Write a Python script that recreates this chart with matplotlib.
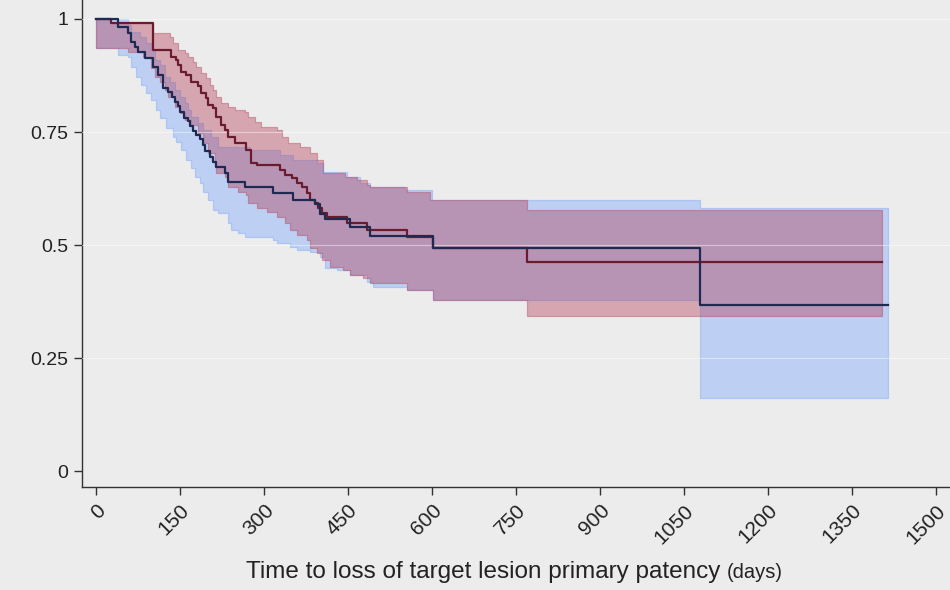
import numpy as np
import matplotlib
matplotlib.use("Agg")
import matplotlib.pyplot as plt

# --- survival estimates (days, proportion) ---
red_t = [0, 27, 102, 134, 143, 146, 152, 161, 170, 182, 188, 196, 200, 209, 214, 223, 230, 236,
         248, 268, 277, 288, 329, 338, 350, 359, 368, 377, 382, 391, 396, 404, 412, 448, 484,
         555, 602, 770]
red_s = [1.0, 0.991, 0.931, 0.916, 0.909, 0.898, 0.883, 0.876, 0.861, 0.852, 0.836, 0.825, 0.810,
         0.803, 0.783, 0.765, 0.754, 0.739, 0.726, 0.710, 0.681, 0.677, 0.666, 0.655, 0.648, 0.637,
         0.628, 0.615, 0.600, 0.593, 0.582, 0.571, 0.562, 0.549, 0.533, 0.518, 0.493, 0.462]
red_end = 1404

red_hi_t = [0, 27, 102, 132, 138, 146, 159, 164, 173, 179, 188, 196, 204, 209, 214, 223, 236, 248,
            266, 271, 284, 295, 323, 332, 343, 364, 382, 395, 405, 445, 466, 484, 489, 555, 596, 770]
red_hi = [1.0, 0.991, 0.969, 0.960, 0.947, 0.931, 0.925, 0.916, 0.905, 0.894, 0.881, 0.869, 0.854,
          0.843, 0.827, 0.814, 0.805, 0.799, 0.794, 0.783, 0.772, 0.761, 0.754, 0.739, 0.726, 0.717,
          0.704, 0.688, 0.659, 0.650, 0.643, 0.633, 0.628, 0.617, 0.600, 0.577]
red_lo_t = [0, 57, 84, 98, 105, 114, 123, 129, 141, 150, 159, 170, 182, 191, 200, 213, 214, 230, 236,
            254, 268, 271, 288, 305, 323, 338, 346, 359, 377, 382, 395, 404, 418, 441, 454, 477, 489,
            555, 602, 770]
red_lo = [0.936, 0.927, 0.916, 0.892, 0.872, 0.861, 0.843, 0.827, 0.805, 0.792, 0.777, 0.765, 0.748,
          0.726, 0.704, 0.673, 0.659, 0.650, 0.628, 0.617, 0.611, 0.593, 0.582, 0.573, 0.562, 0.549,
          0.533, 0.522, 0.511, 0.493, 0.482, 0.467, 0.451, 0.445, 0.434, 0.427, 0.416, 0.400, 0.378,
          0.343]

blue_t = [0, 39, 57, 63, 70, 75, 88, 102, 111, 120, 129, 136, 141, 146, 150, 157, 164, 168, 173,
          179, 186, 191, 195, 204, 209, 214, 230, 236, 266, 316, 352, 391, 400, 409, 454, 489, 602,
          1079]
blue_s = [1.0, 0.982, 0.969, 0.949, 0.938, 0.927, 0.914, 0.894, 0.876, 0.847, 0.838, 0.827, 0.816,
          0.808, 0.794, 0.781, 0.774, 0.763, 0.752, 0.743, 0.735, 0.721, 0.708, 0.695, 0.684, 0.673,
          0.659, 0.639, 0.628, 0.615, 0.600, 0.591, 0.569, 0.558, 0.540, 0.520, 0.493, 0.367]
blue_end = 1414

blue_hi_t = [0, 57, 63, 79, 89, 98, 105, 114, 123, 132, 141, 150, 159, 164, 170, 182, 191, 205, 218,
             275, 329, 352, 395, 405, 448, 471, 489, 552, 600, 1079]
blue_hi = [1.0, 0.987, 0.971, 0.960, 0.947, 0.931, 0.909, 0.898, 0.872, 0.861, 0.843, 0.827, 0.814,
           0.799, 0.783, 0.770, 0.754, 0.739, 0.717, 0.710, 0.699, 0.688, 0.681, 0.661, 0.650, 0.637,
           0.628, 0.622, 0.600, 0.582]
blue_lo_t = [0, 39, 57, 62, 71, 80, 89, 98, 107, 114, 125, 137, 143, 152, 161, 170, 177, 186, 191,
             200, 209, 218, 236, 241, 254, 266, 316, 323, 346, 359, 382, 400, 409, 430, 454, 484, 495,
             555, 602, 1079]
blue_lo = [0.936, 0.920, 0.916, 0.894, 0.872, 0.854, 0.836, 0.821, 0.799, 0.781, 0.759, 0.739, 0.728,
           0.710, 0.688, 0.670, 0.650, 0.637, 0.617, 0.600, 0.578, 0.571, 0.549, 0.533, 0.527, 0.518,
           0.511, 0.504, 0.496, 0.489, 0.485, 0.473, 0.449, 0.445, 0.434, 0.418, 0.407, 0.400, 0.378,
           0.161]

x_ticks = np.arange(0, 1501, 150)
y_ticks = [0, 0.25, 0.5, 0.75, 1]
y_labels = ["0", "0.25", "0.5", "0.75", "1"]


def step_at(t, v, grid):
    idx = np.searchsorted(t, grid, side="right") - 1
    return np.asarray(v)[idx]


def band(ax, t_hi, hi, t_lo, lo, end, color, alpha):
    grid = np.unique(np.concatenate([t_hi, t_lo, [end]]))
    up = step_at(t_hi, hi, grid)
    dn = step_at(t_lo, lo, grid)
    ax.fill_between(grid, dn, up, step="post", facecolor=color, alpha=alpha,
                    edgecolor=color, linewidth=0.9, zorder=2)


def km_line(ax, t, s, end, color):
    tt = list(t) + [end]
    ss = list(s) + [s[-1]]
    ax.step(tt, ss, where="post", color=color, linewidth=1.6, zorder=4)


plt.rcParams["font.family"] = ["Liberation Sans", "DejaVu Sans"]

bg = "#ececec"
fig = plt.figure(figsize=(9.5, 5.9), dpi=100, facecolor=bg)
ax = fig.add_axes([0.0863, 0.1746, 0.9137, 0.8254])
ax.set_facecolor(bg)

band(ax, blue_hi_t, blue_hi, blue_lo_t, blue_lo, blue_end, "#6b9dff", 0.36)
band(ax, red_hi_t, red_hi, red_lo_t, red_lo, red_end, "#b03650", 0.38)
km_line(ax, red_t, red_s, red_end, "#6a1c2e")
km_line(ax, blue_t, blue_s, blue_end, "#1f2a52")

for yv in y_ticks[1:]:
    ax.axhline(yv, color="white", linewidth=0.8, alpha=0.45, zorder=3)

ax.set_xlim(-25, 1525)
ax.set_ylim(-0.035, 1.042)
ax.set_xticks(x_ticks)
ax.set_xticklabels([str(v) for v in x_ticks], rotation=45, ha="right", va="top",
                   rotation_mode="anchor", fontsize=15)
ax.set_yticks(y_ticks)
ax.set_yticklabels(y_labels, fontsize=14)
ax.tick_params(axis="both", length=6, width=1, color="#333333", labelcolor="#222222", pad=4)

for side in ["top", "right"]:
    ax.spines[side].set_visible(False)
for side in ["left", "bottom"]:
    ax.spines[side].set_color("#333333")
    ax.spines[side].set_linewidth(1)

fig.text(0.758, 0.012, "Time to loss of target lesion primary patency", fontsize=17.5,
         ha="right", va="bottom", color="#222222")
fig.text(0.765, 0.014, "(days)", fontsize=14.5, ha="left", va="bottom", color="#222222")

fig.savefig("out.png", dpi=100, facecolor=bg)
